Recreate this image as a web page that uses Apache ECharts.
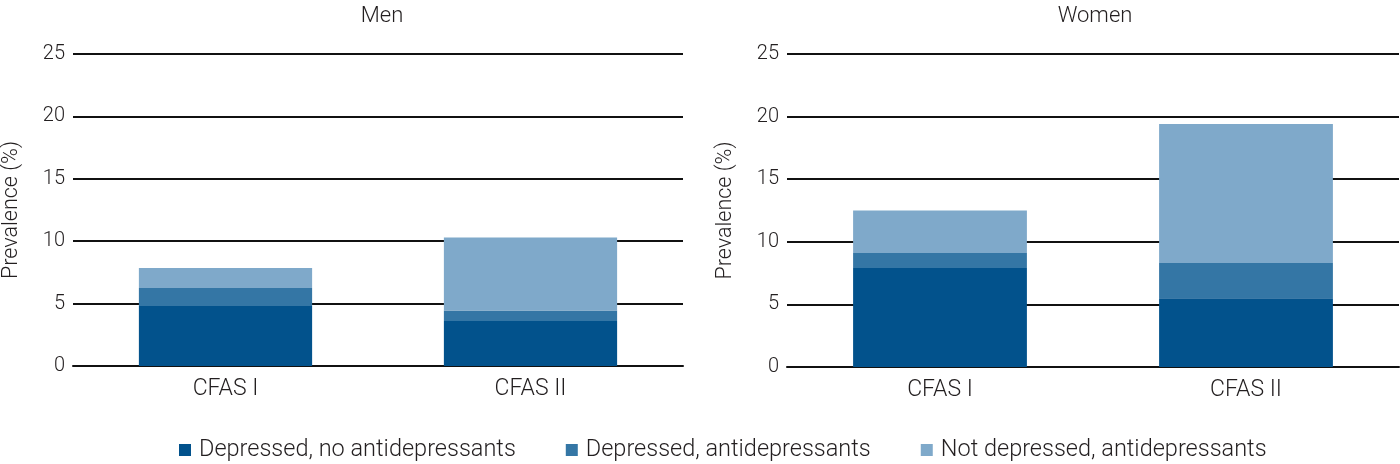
<!DOCTYPE html>
<html><head><meta charset="utf-8">
<script src="https://cdn.jsdelivr.net/npm/echarts@6/dist/echarts.min.js"></script>
<style>html,body{margin:0;padding:0;background:#fff}#c{width:1400px;height:464px}</style>
</head><body><div id="c"></div>
<script>
const categories = ["CFAS I", "CFAS II"];
const seriesNames = ["Depressed, no antidepressants", "Depressed, antidepressants", "Not depressed, antidepressants"];
const menDepNoAD = [4.8, 3.6];
const menDepAD = [1.45, 0.85];
const menNotDepAD = [1.6, 5.85];
const womenDepNoAD = [7.9, 5.5];
const womenDepAD = [1.2, 2.8];
const womenNotDepAD = [3.4, 11.1];
const yTicks = [0, 5, 10, 15, 20, 25];
const panelTitles = ["Men", "Women"];
const yName = "Prevalence (%)";

const colors = ["#02528C", "#3476A5", "#7FA9CA"];
const FONT = "Roboto, 'Liberation Sans', sans-serif";
const TXT = '#231f20';
const chart = echarts.init(document.getElementById('c'));

function yAxis(gi) {
  return {
    type: 'value', gridIndex: gi, min: yTicks[0], max: yTicks[yTicks.length - 1], interval: 5,
    axisLine: {show: false}, axisTick: {show: false},
    axisLabel: {color: TXT, fontSize: 20, fontWeight: 300, fontFamily: FONT, margin: 8},
    splitLine: {lineStyle: {color: '#111', width: 2}},
    name: yName, nameLocation: 'middle', nameGap: 50, nameRotate: 90,
    nameTextStyle: {color: TXT, fontSize: 21.5, fontWeight: 300, fontFamily: FONT}
  };
}
function xAxis(gi) {
  return {
    type: 'category', gridIndex: gi, data: categories,
    axisLine: {show: true, lineStyle: {color: '#111', width: 2}}, axisTick: {show: false},
    axisLabel: {color: TXT, fontSize: 23, fontWeight: 300, fontFamily: FONT, margin: 12}
  };
}
function bars(vals, gi, stack) {
  return vals.map((v, i) => ({
    name: seriesNames[i], type: 'bar', stack: stack, xAxisIndex: gi, yAxisIndex: gi,
    data: v, barWidth: '56.8%', itemStyle: {color: colors[i]}
  }));
}

chart.setOption({
  animation: false,
  title: [
    {text: panelTitles[0], left: 377, top: 0, textAlign: 'center', textStyle: {fontSize: 22, fontWeight: 300, color: TXT, fontFamily: FONT}},
    {text: panelTitles[1], left: 1090, top: 0, textAlign: 'center', textStyle: {fontSize: 22, fontWeight: 300, color: TXT, fontFamily: FONT}}
  ],
  grid: [
    {left: 73, right: 717, top: 54, bottom: 98},
    {left: 787, right: 1, top: 54, bottom: 97}
  ],
  xAxis: [xAxis(0), xAxis(1)],
  yAxis: [yAxis(0), yAxis(1)],
  legend: {
    data: seriesNames, bottom: -3, left: 174, icon: 'rect', itemWidth: 12, itemHeight: 12, itemGap: 50,
    textStyle: {color: TXT, fontSize: 23.5, fontWeight: 300, fontFamily: FONT, padding: [0, 0, 0, 3]}
  },
  series: [
    ...bars([menDepNoAD, menDepAD, menNotDepAD], 0, 'men'),
    ...bars([womenDepNoAD, womenDepAD, womenNotDepAD], 1, 'women')
  ]
});
</script></body></html>
